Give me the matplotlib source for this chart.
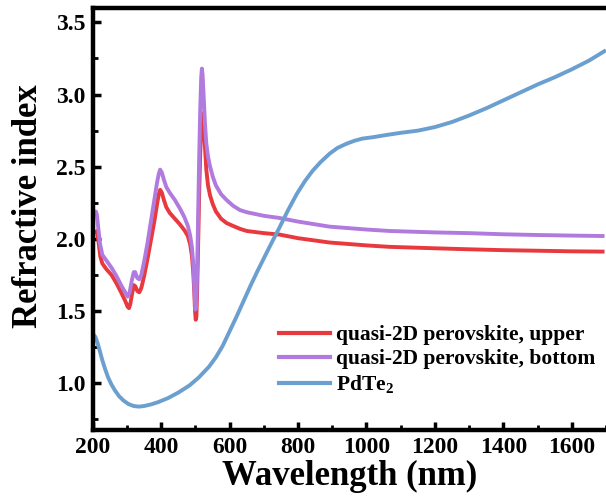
import matplotlib
matplotlib.use("Agg")
import matplotlib.pyplot as plt
from matplotlib.ticker import MultipleLocator

plt.rcParams['font.family'] = ['Liberation Serif', 'DejaVu Serif']
plt.rcParams['font.weight'] = 'bold'
plt.rcParams['mathtext.fontset'] = 'custom'
plt.rcParams['mathtext.rm'] = 'Liberation Serif:bold'
plt.rcParams['mathtext.bf'] = 'Liberation Serif:bold'

upper_x = [210, 213, 217, 222, 228, 240, 255, 270, 285, 295, 302, 306, 310, 315, 320, 325, 330, 336, 342,
           350, 360, 370, 380, 388, 393, 397, 402, 408, 415, 425, 440, 455, 468, 478, 485, 490, 494, 497,
           499, 501, 503, 505, 508, 511, 514, 517, 520, 522, 525, 528, 532, 537, 543, 551, 560, 575, 591,
           610, 630, 650, 700, 746, 800, 892, 1000, 1067, 1200, 1300, 1400, 1500, 1600, 1690]
upper_y = [2.05, 2.04, 1.98, 1.88, 1.83, 1.79, 1.75, 1.69, 1.62, 1.57, 1.53, 1.52, 1.55, 1.62, 1.68, 1.67,
           1.64, 1.63, 1.66, 1.74, 1.86, 1.99, 2.12, 2.24, 2.31, 2.34, 2.32, 2.27, 2.22, 2.18, 2.14, 2.10,
           2.06, 2.02, 1.96, 1.88, 1.76, 1.62, 1.50, 1.44, 1.46, 1.62, 1.95, 2.30, 2.58, 2.76, 2.85, 2.87,
           2.78, 2.64, 2.48, 2.37, 2.30, 2.24, 2.19, 2.14, 2.11, 2.09, 2.07, 2.055, 2.04, 2.03, 2.005, 1.975,
           1.955, 1.945, 1.935, 1.928, 1.922, 1.918, 1.914, 1.912]

bottom_x = [206, 209, 212, 216, 221, 228, 240, 255, 270, 285, 295, 302, 308, 314, 320, 324, 330, 336, 342,
            350, 360, 370, 380, 388, 393, 397, 402, 408, 415, 425, 440, 455, 468, 478, 485, 490, 494, 497,
            500, 502, 505, 508, 511, 514, 517, 519, 521, 524, 528, 532, 537, 543, 551, 560, 575, 591, 610,
            630, 650, 700, 746, 800, 892, 1000, 1067, 1200, 1300, 1400, 1500, 1600, 1690]
bottom_y = [2.18, 2.19, 2.17, 2.08, 1.97, 1.89, 1.85, 1.80, 1.74, 1.67, 1.63, 1.60, 1.63, 1.71, 1.77, 1.77,
            1.73, 1.72, 1.75, 1.84, 1.97, 2.12, 2.27, 2.39, 2.45, 2.48, 2.46, 2.41, 2.36, 2.32, 2.27, 2.21,
            2.15, 2.09, 2.02, 1.94, 1.82, 1.66, 1.51, 1.53, 1.75, 2.15, 2.55, 2.88, 3.12, 3.18, 3.14, 3.00,
            2.80, 2.66, 2.57, 2.50, 2.43, 2.37, 2.31, 2.27, 2.23, 2.20, 2.185, 2.16, 2.145, 2.12, 2.085,
            2.065, 2.055, 2.045, 2.04, 2.032, 2.027, 2.023, 2.02]

pdte2_x = [203, 208, 214, 220, 228, 236, 245, 255, 265, 277, 290, 305, 320, 335, 350, 370, 390, 420, 450,
           483, 510, 540, 560, 580, 600, 620, 640, 660, 680, 700, 720, 746, 770, 796, 820, 842, 865, 892,
           915, 942, 965, 988, 1020, 1058, 1100, 1150, 1200, 1250, 1300, 1350, 1400, 1450, 1500, 1550,
           1600, 1650, 1695]
pdte2_y = [1.335, 1.32, 1.28, 1.23, 1.16, 1.10, 1.04, 0.99, 0.95, 0.91, 0.88, 0.855, 0.842, 0.838, 0.842,
           0.853, 0.868, 0.897, 0.935, 0.985, 1.04, 1.115, 1.18, 1.26, 1.36, 1.46, 1.565, 1.67, 1.77,
           1.865, 1.96, 2.08, 2.195, 2.31, 2.40, 2.47, 2.53, 2.59, 2.63, 2.66, 2.68, 2.695, 2.705, 2.72,
           2.735, 2.75, 2.775, 2.81, 2.855, 2.905, 2.96, 3.015, 3.07, 3.12, 3.175, 3.235, 3.30]

labels = ["quasi-2D perovskite, upper", "quasi-2D perovskite, bottom", r"PdTe$_\mathbf{2}$"]
colors = ["#E8393E", "#B07ADF", "#6A9FCF"]
x_ticks = [200, 400, 600, 800, 1000, 1200, 1400, 1600]
y_ticks = [1.0, 1.5, 2.0, 2.5, 3.0, 3.5]

fig = plt.figure(figsize=(6.06, 4.99), dpi=100)
ax = fig.add_axes([0.153, 0.138, 0.847, 0.846])

lw = 2.8
ax.plot(upper_x, upper_y, color=colors[0], lw=lw, label=labels[0], solid_joinstyle='round')
ax.plot(bottom_x, bottom_y, color=colors[1], lw=lw, label=labels[1], solid_joinstyle='round')
ax.plot(pdte2_x, pdte2_y, color=colors[2], lw=lw, label=labels[2], solid_joinstyle='round')

ax.set_xlim(200, 1700)
ax.set_ylim(0.675, 3.6)
ax.set_xticks(x_ticks)
ax.set_yticks(y_ticks)
ax.set_yticklabels([f"{v:.1f}" for v in y_ticks])
ax.xaxis.set_minor_locator(MultipleLocator(100))
ax.yaxis.set_minor_locator(MultipleLocator(0.25))
ax.tick_params(which='major', direction='in', length=6, width=2.5, labelsize=17, pad=5)
ax.tick_params(which='minor', direction='in', length=3.5, width=2.0)
ax.tick_params(top=False, right=False, which='both')
for s in ['left', 'bottom', 'top']:
    ax.spines[s].set_linewidth(3.2)
ax.spines['right'].set_visible(False)

ax.set_xlabel("Wavelength (nm)", fontsize=25, fontweight='bold', labelpad=1)
ax.set_ylabel("Refractive index", fontsize=25, fontweight='bold', labelpad=5)
ax.yaxis.set_label_coords(-0.092, 0.53)

leg = ax.legend(loc='lower left', bbox_to_anchor=(0.362, 0.08), frameon=False,
                handlelength=2.4, handletextpad=0.25, labelspacing=0.2, borderpad=0, borderaxespad=0,
                prop={'weight': 'bold', 'size': 15.5})
for line in leg.get_lines():
    line.set_linewidth(3)

fig.savefig("out.png", dpi=100)
